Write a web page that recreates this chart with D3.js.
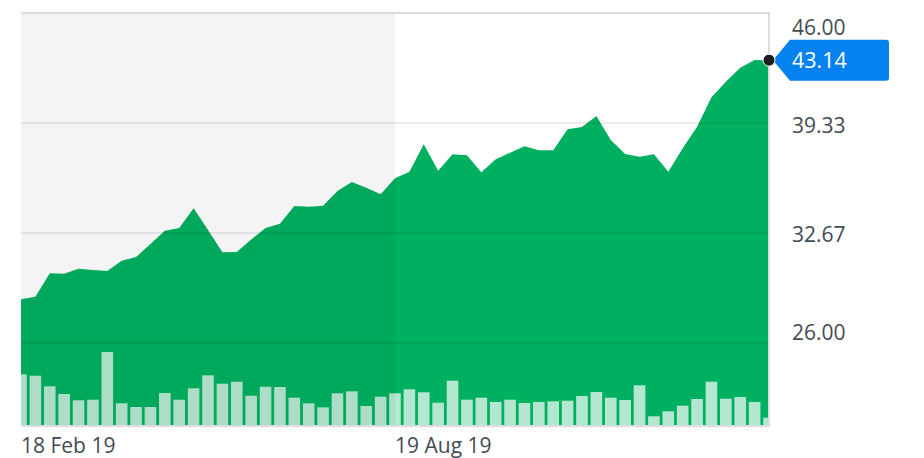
<!DOCTYPE html>
<html>
<head>
<meta charset="utf-8">
<script src="https://cdn.jsdelivr.net/npm/d3@7"></script>
<style>
  html, body { margin: 0; padding: 0; background: #fff; }
  svg { display: block; }
  text { font-family: "Open Sans", "Noto Sans", sans-serif; }
</style>
</head>
<body>
<svg id="chart" width="924" height="458"></svg>
<script>
// ---- data (weekly) ----
const dates = [
  "2019-02-18","2019-02-25","2019-03-04","2019-03-11","2019-03-18","2019-03-25",
  "2019-04-01","2019-04-08","2019-04-15","2019-04-22","2019-04-29","2019-05-06",
  "2019-05-13","2019-05-20","2019-05-27","2019-06-03","2019-06-10","2019-06-17",
  "2019-06-24","2019-07-01","2019-07-08","2019-07-15","2019-07-22","2019-07-29",
  "2019-08-05","2019-08-12","2019-08-19","2019-08-26","2019-09-02","2019-09-09",
  "2019-09-16","2019-09-23","2019-09-30","2019-10-07","2019-10-14","2019-10-21",
  "2019-10-28","2019-11-04","2019-11-11","2019-11-18","2019-11-25","2019-12-02",
  "2019-12-09","2019-12-16","2019-12-23","2019-12-30","2020-01-06","2020-01-13",
  "2020-01-20","2020-01-27","2020-02-03","2020-02-10","2020-02-17"
];
const closes = [
  28.65, 28.81, 30.22, 30.20, 30.50, 30.42, 30.36, 30.99, 31.21, 32.00,
  32.81, 32.97, 34.16, 32.85, 31.50, 31.52, 32.28, 32.97, 33.23, 34.30,
  34.26, 34.32, 35.21, 35.76, 35.41, 35.01, 35.98, 36.38, 38.04, 36.44,
  37.44, 37.38, 36.35, 37.13, 37.53, 37.92, 37.68, 37.68, 38.95, 39.09,
  39.76, 38.30, 37.45, 37.29, 37.44, 36.38, 37.80, 39.11, 40.89, 41.84,
  42.68, 43.15, 43.14
];
const volumes = [
  51.7, 50.3, 39.7, 32.0, 25.7, 26.3, 74.0, 22.7, 19.0, 19.0,
  33.0, 26.3, 37.7, 50.7, 42.3, 44.3, 30.3, 39.3, 39.0, 28.3,
  22.7, 18.7, 32.7, 34.7, 20.0, 29.3, 32.7, 36.7, 33.7, 23.3,
  45.3, 26.3, 28.3, 24.0, 26.3, 23.0, 24.0, 24.7, 25.3, 30.0,
  34.0, 28.3, 26.0, 40.7, 9.7, 14.7, 20.3, 27.0, 44.3, 27.3,
  29.0, 24.0, 8.3
];
const priceTicks = [26.00, 32.67, 39.33, 46.00];
const dateTicks = ["2019-02-18", "2019-08-19"];
const shadeUntil = "2019-08-19";
const lastPrice = 43.14;

// ---- layout ----
const svg = d3.select("#chart");
const L = 21, R = 769, T = 13, B = 426;
const parse = d3.timeParse("%Y-%m-%d");
const data = dates.map((d, i) => ({ date: parse(d), close: closes[i], vol: volumes[i] }));

const x = d3.scaleTime().domain(d3.extent(data, d => d.date)).range([L, R]);
const y = d3.scaleLinear().domain([26, 46]).range([343, T]);
const yv = d3.scaleLinear().domain([0, 100]).range([B, B - 100]);

svg.append("defs").append("clipPath").attr("id", "plotclip")
  .append("rect").attr("x", L).attr("y", T).attr("width", R - L).attr("height", B - T);

const plot = svg.append("g").attr("clip-path", "url(#plotclip)");

// area
const area = d3.area()
  .x(d => x(d.date))
  .y0(B)
  .y1(d => y(d.close));
plot.append("path").datum(data).attr("d", area).attr("fill", "#00b061");

// gridlines
plot.selectAll("line.grid").data(priceTicks).join("line")
  .attr("class", "grid")
  .attr("x1", L).attr("x2", R)
  .attr("y1", d => y(d)).attr("y2", d => y(d))
  .attr("stroke", "#000").attr("stroke-opacity", 0.075).attr("stroke-width", 2);

// volume bars
const bw = 11.6;
plot.selectAll("rect.vol").data(data).join("rect")
  .attr("class", "vol")
  .attr("x", d => x(d.date) - bw / 2)
  .attr("width", bw)
  .attr("y", d => yv(d.vol))
  .attr("height", d => B - yv(d.vol))
  .attr("fill", "#fff").attr("fill-opacity", 0.7);

// shaded earlier half
plot.append("rect")
  .attr("x", L).attr("y", T)
  .attr("width", x(parse(shadeUntil)) - L)
  .attr("height", B - T)
  .attr("fill", "#000").attr("fill-opacity", 0.045);

// borders
svg.append("line").attr("x1", L).attr("x2", R + 1).attr("y1", T).attr("y2", T)
  .attr("stroke", "#dcdde3").attr("stroke-width", 2);
svg.append("line").attr("x1", R).attr("x2", R).attr("y1", T).attr("y2", B + 1)
  .attr("stroke", "#dcdde3").attr("stroke-width", 2);
svg.append("line").attr("x1", L).attr("x2", R + 1).attr("y1", B).attr("y2", B)
  .attr("stroke", "#dcdde3").attr("stroke-width", 2);

// y labels (right)
svg.selectAll("text.ylab").data(priceTicks).join("text")
  .attr("class", "ylab")
  .attr("x", 792)
  .attr("y", d => Math.max(35, Math.min(340, y(d) + 9.5)))
  .attr("font-size", 21)
  .attr("fill", "#444b53")
  .text(d => d.toFixed(2));

// x labels
const fmt = d3.timeFormat("%d %b %y");
svg.selectAll("text.xlab").data(dateTicks).join("text")
  .attr("class", "xlab")
  .attr("x", d => x(parse(d)))
  .attr("y", 453)
  .attr("font-size", 21)
  .attr("fill", "#444b53")
  .text(d => fmt(parse(d)));

// last price tag
const ly = y(lastPrice);
const tag = svg.append("g");
tag.append("path")
  .attr("d", `M${R + 4},${ly} L${R + 21},${ly - 20.5} H${R + 117} a3,3 0 0 1 3,3 V${ly + 17.5} a3,3 0 0 1 -3,3 H${R + 21} Z`)
  .attr("fill", "#0681f0");
tag.append("text")
  .attr("x", 792).attr("y", ly + 7.5)
  .attr("font-size", 21.5).attr("fill", "#fff")
  .text(lastPrice.toFixed(2));

svg.append("circle")
  .attr("cx", x(data[data.length - 1].date)).attr("cy", ly).attr("r", 6)
  .attr("fill", "#1e1e1e").attr("stroke", "#fff").attr("stroke-width", 1);
</script>
</body>
</html>
